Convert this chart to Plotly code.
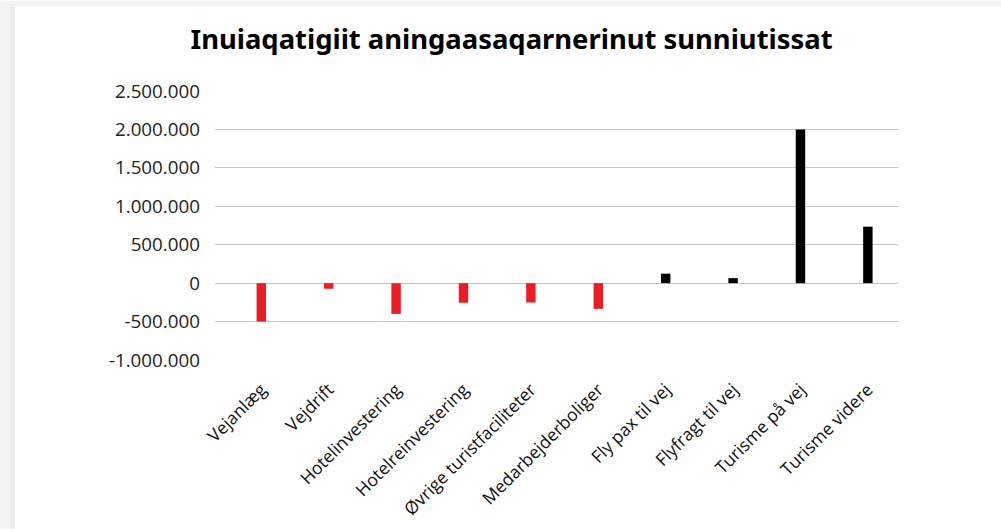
import plotly.graph_objects as go

categories = ["Vejanlæg", "Vejdrift", "Hotelinvestering", "Hotelreinvestering",
              "Øvrige turistfaciliteter", "Medarbejderboliger", "Fly pax til vej",
              "Flyfragt til vej", "Turisme på vej", "Turisme videre"]
values = [-500000, -73000, -400000, -255000, -252000, -334000, 123000, 65000, 2000000, 735000]
colors = ["#ED1C24" if v < 0 else "#000000" for v in values]

tick_vals = [-1000000, -500000, 0, 500000, 1000000, 1500000, 2000000, 2500000]
tick_text = ["-1.000.000", "-500.000", "0", "500.000", "1.000.000", "1.500.000", "2.000.000", "2.500.000"]

fig = go.Figure(go.Bar(x=list(range(len(categories))), y=values, marker_color=colors,
                       marker_line_width=0, width=0.14))

# page background: grey strip with shadow to the left and on top of the white card
W, L, R = 1001, 215, 898
T, B = 91, 362
def px_x(p): return (p - L) / (R - L)
def px_y(p): return (B - p) / (B - T)
shapes = [
    dict(type="rect", xref="paper", yref="paper", x0=px_x(0), x1=px_x(W), y0=px_y(0), y1=px_y(6),
         fillcolor="#f4f4f4", line_width=0, layer="below"),
    dict(type="rect", xref="paper", yref="paper", x0=px_x(0), x1=px_x(10), y0=px_y(0), y1=px_y(532),
         fillcolor="#f4f4f4", line_width=0, layer="below"),
    dict(type="rect", xref="paper", yref="paper", x0=px_x(10), x1=px_x(15), y0=px_y(6), y1=px_y(532),
         fillcolor="#ececec", line_width=0, layer="below"),
]

fig.update_layout(
    width=1001, height=532,
    margin=dict(l=L, r=W - R, t=T, b=532 - B),
    paper_bgcolor="white", plot_bgcolor="white",
    showlegend=False,
    shapes=shapes,
    title=dict(text="<b>Inuiaqatigiit aningaasaqarnerinut sunniutissat</b>",
               x=0.511, xanchor="center", y=0.925, yanchor="middle",
               font=dict(family="Noto Sans", size=27.4, color="#000000")),
    font=dict(family="Open Sans", color="#222222"),
    xaxis=dict(tickvals=list(range(len(categories))), ticktext=categories,
               range=[-0.687, 9.447], tickangle=-45, showgrid=False,
               tickfont=dict(size=17.5, color="#111111"), ticklabelstandoff=15,
               showline=False, zeroline=False),
    yaxis=dict(range=[-1000000, 2500000], tickvals=tick_vals, ticktext=tick_text,
               showgrid=True, gridcolor="#c6c6c6", gridwidth=1,
               zeroline=True, zerolinecolor="#c6c6c6", zerolinewidth=1,
               tickfont=dict(size=18.8, color="#222222"), ticklabelstandoff=14),
)

fig.write_html("out.html", config={"displayModeBar": False},
               post_script="document.body.style.margin='0';document.body.style.overflow='hidden';")
